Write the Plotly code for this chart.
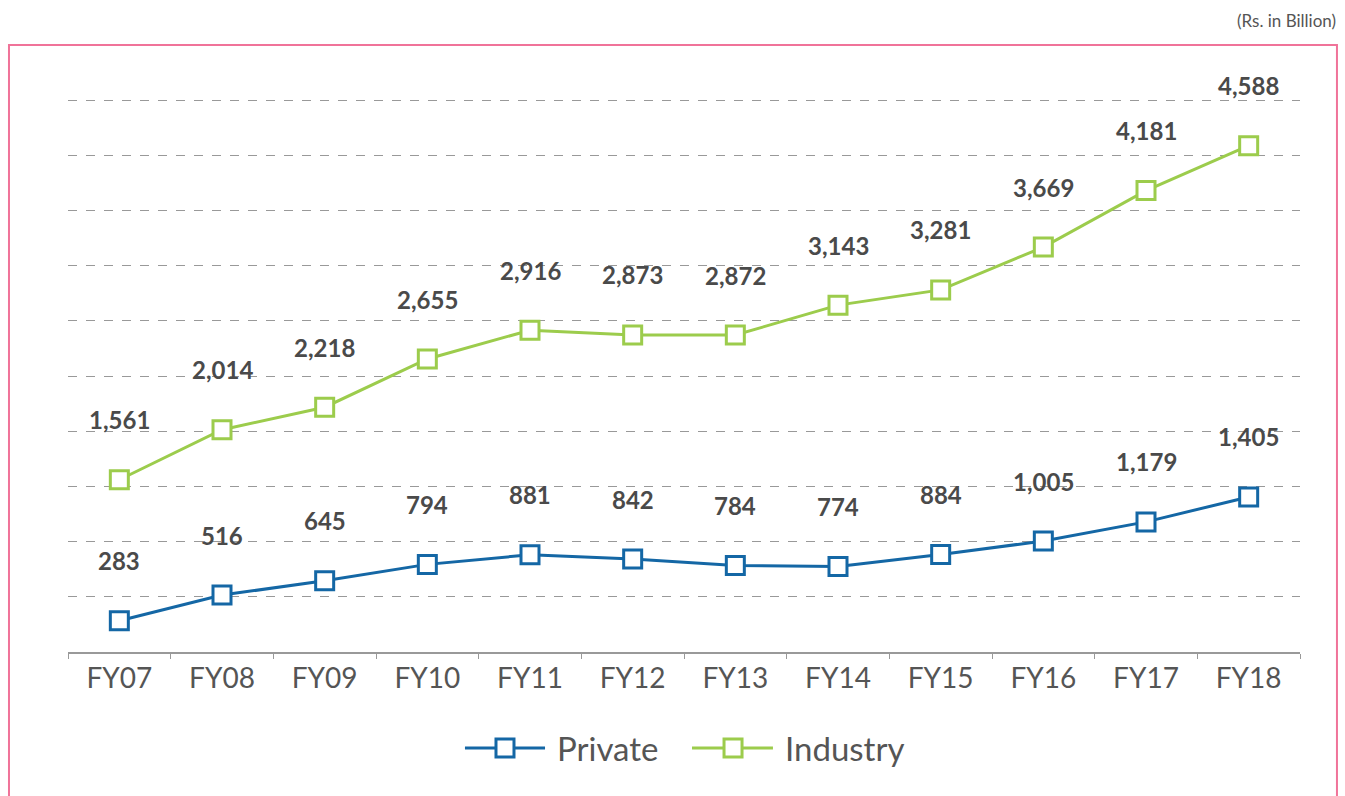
import plotly.graph_objects as go

years = ["FY07", "FY08", "FY09", "FY10", "FY11", "FY12", "FY13", "FY14", "FY15", "FY16", "FY17", "FY18"]
private = [283, 516, 645, 794, 881, 842, 784, 774, 884, 1005, 1179, 1405]
industry = [1561, 2014, 2218, 2655, 2916, 2873, 2872, 3143, 3281, 3669, 4181, 4588]

BLUE = "#1467a5"
GREEN = "#9ccc4c"
LABEL = "#4a4a4a"
TEXT = "#555555"

fig = go.Figure()
for name, vals, col in [("Private", private, BLUE), ("Industry", industry, GREEN)]:
    fig.add_trace(go.Scatter(
        x=years, y=vals, name=name, mode="lines+markers",
        line=dict(color=col, width=3),
        marker=dict(symbol="square", size=18, color="white", line=dict(color=col, width=3)),
        hoverinfo="x+y", showlegend=False,
    ))

annotations = []
for vals in (private, industry):
    for x, v in zip(years, vals):
        annotations.append(dict(
            x=x, y=v, xref="x", yref="y", text=f"<b>{v:,}</b>", showarrow=False,
            yshift=60, font=dict(family="Lato", size=24, color=LABEL),
        ))
annotations.append(dict(
    x=1.0308, y=1.139, xref="paper", yref="paper", text="(Rs. in Billion)",
    showarrow=False, xanchor="right", yanchor="middle",
    font=dict(family="Lato", size=17, color=TEXT),
))

# custom legend (wide symbol like reference)
LEG_Y = -0.1733
shapes = [dict(type="rect", xref="paper", yref="paper", x0=-0.0479, x1=1.0300,
               y0=-0.5, y1=1.0957, line=dict(color="#f07399", width=2), layer="below")]
for name, col, x0, x1, xc, xt in [("Private", BLUE, 0.3222, 0.3872, 0.3547, 0.3953),
                                  ("Industry", GREEN, 0.5065, 0.5722, 0.5398, 0.5804)]:
    shapes.append(dict(type="line", xref="paper", yref="paper", x0=x0, x1=x1, y0=LEG_Y, y1=LEG_Y,
                       line=dict(color=col, width=3)))
    shapes.append(dict(type="rect", xref="paper", yref="paper", xsizemode="pixel", ysizemode="pixel",
                       xanchor=xc, yanchor=LEG_Y, x0=-9, x1=9, y0=-9, y1=9,
                       fillcolor="white", line=dict(color=col, width=3)))
    annotations.append(dict(x=xt, y=LEG_Y, xref="paper", yref="paper", text=name, showarrow=False,
                            xanchor="left", yanchor="middle",
                            font=dict(family="Lato", size=33, color=TEXT)))

fig.update_layout(
    width=1345, height=796, autosize=False,
    margin=dict(l=68, r=45, t=98, b=144),
    paper_bgcolor="white", plot_bgcolor="white",
    annotations=annotations, shapes=shapes,
    showlegend=False,
    xaxis=dict(type="category", range=[-0.5, 11.5], tickson="boundaries", ticks="outside",
               ticklen=5, tickcolor="#999999", showline=True, linecolor="#999999", linewidth=2,
               showgrid=False, tickfont=dict(family="Lato", size=28, color=TEXT),
               fixedrange=True),
    yaxis=dict(range=[0, 5020], tickvals=[500 * i for i in range(1, 11)], showticklabels=False,
               showline=False, showgrid=True, gridcolor="#999999", griddash="dash", gridwidth=1,
               zeroline=False, fixedrange=True),
)

fig.write_html("out.html", config={"displayModeBar": False},
               post_script="document.body.style.margin='0';document.body.style.overflow='hidden';")
